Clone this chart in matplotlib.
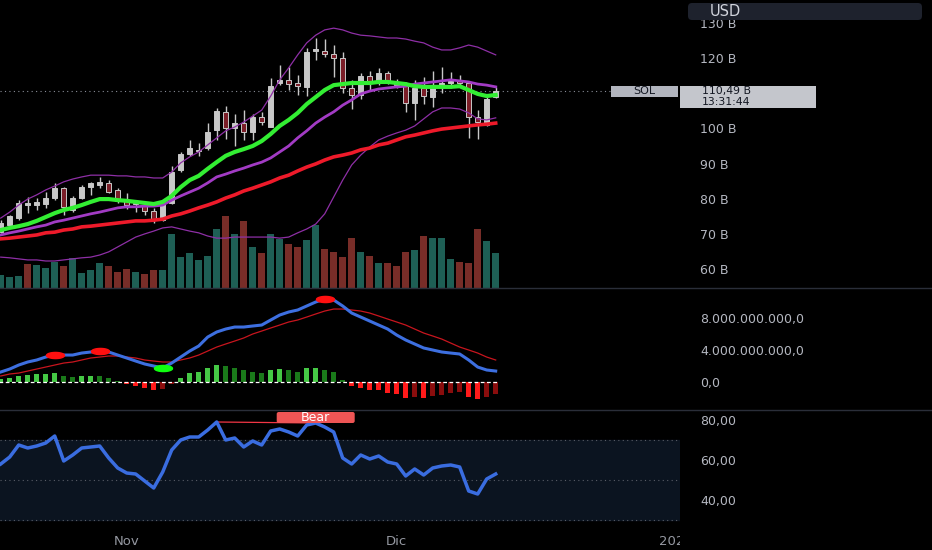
import datetime as dt
import numpy as np
import matplotlib.pyplot as plt
from matplotlib.lines import Line2D
from matplotlib.patches import Rectangle, FancyBboxPatch
from matplotlib.path import Path
from matplotlib.transforms import IdentityTransform, Bbox, TransformedBbox

plt.rcParams['font.family'] = ['DejaVu Sans']

# velas diárias (market cap em B), de 18/out até 12/dez
inicio = dt.date(2024, 10, 18)

abertura = [70.5, 72.5, 74.5, 78.2, 78.2, 78.5, 80.2, 83.0, 76.8, 80.2,
            83.3, 83.9, 84.5, 82.5, 79.6, 78.8, 78.2, 76.5, 73.9, 78.8,
            88.2, 92.7, 93.6, 94.4, 99.5, 104.7, 100.1, 101.5, 99.0, 103.2,
            100.4, 112.9, 113.8, 112.9, 111.8, 122.0, 122.0, 121.1, 120.0, 111.5,
            109.5, 114.9, 112.9, 115.7, 112.9, 112.6, 107.2, 111.5, 108.9, 112.3,
            112.9, 113.5, 112.9, 103.2, 101.0, 108.9]
maxima = [74.0, 75.4, 79.6, 80.5, 80.2, 81.9, 84.5, 83.3, 80.8, 83.9,
          84.8, 86.2, 85.3, 83.0, 81.6, 79.1, 78.8, 77.4, 79.6, 89.3,
          93.3, 96.7, 95.8, 101.5, 105.8, 106.4, 104.1, 105.2, 104.1, 104.7,
          114.3, 118.0, 117.5, 115.2, 122.9, 125.7, 125.4, 123.7, 121.7, 113.8,
          115.7, 116.3, 117.2, 116.3, 114.0, 113.2, 113.8, 114.6, 116.3, 117.5,
          116.0, 115.2, 113.2, 105.2, 109.5, 111.8]
minima = [70.2, 71.7, 73.9, 75.9, 76.8, 77.4, 79.6, 75.4, 76.2, 79.9,
          81.1, 83.0, 81.6, 78.8, 77.1, 76.2, 75.4, 73.1, 73.7, 78.5,
          87.6, 92.2, 92.2, 93.9, 96.7, 97.0, 95.0, 96.7, 96.7, 101.0,
          100.4, 112.3, 110.9, 109.5, 109.2, 119.4, 120.3, 114.6, 110.1, 105.5,
          108.4, 110.9, 112.3, 112.6, 111.5, 104.7, 102.4, 106.9, 106.1, 110.1,
          111.5, 111.8, 97.3, 97.0, 100.7, 108.6]
fechamento = [73.1, 75.1, 78.8, 78.8, 79.1, 80.2, 83.0, 77.7, 80.2, 83.3,
              84.5, 84.8, 81.9, 79.4, 78.2, 78.5, 76.5, 73.9, 78.8, 87.6,
              92.7, 94.4, 93.9, 99.0, 104.9, 100.1, 101.5, 99.0, 103.2, 101.8,
              112.0, 113.8, 112.6, 112.0, 121.7, 122.6, 121.1, 120.0, 111.5, 109.5,
              114.9, 112.9, 115.7, 112.9, 112.3, 107.2, 111.5, 109.2, 112.3, 112.9,
              113.5, 112.9, 103.2, 101.8, 108.4, 110.49]
hora_vela = '13:31:44'

# médias e bandas
ema_curta = [71.1, 71.7, 72.2, 72.8, 73.7, 74.8, 75.9, 76.8, 77.4, 78.2,
             79.1, 79.9, 79.9, 79.6, 79.4, 79.1, 78.8, 78.5, 79.1, 80.8,
             83.3, 85.3, 86.5, 88.5, 90.4, 92.2, 93.3, 94.1, 95.0, 96.4,
             98.4, 100.7, 102.4, 104.4, 106.9, 108.9, 110.9, 112.3, 112.6, 112.9,
             112.9, 112.9, 113.2, 113.2, 112.9, 112.6, 112.0, 111.8, 111.8, 111.8,
             111.8, 112.0, 110.9, 109.8, 109.2, 109.5]
banda_meio = [69.7, 70.3, 70.8, 71.4, 72.0, 72.5, 73.4, 73.9, 74.5, 75.1,
              75.7, 76.2, 76.8, 77.4, 77.7, 77.7, 77.9, 77.9, 78.2, 79.6,
              80.8, 81.9, 83.0, 84.5, 86.2, 87.0, 87.9, 88.7, 89.6, 90.4,
              91.6, 93.3, 95.0, 97.3, 99.3, 101.5, 103.2, 104.7, 106.6, 108.1,
              109.8, 110.6, 111.2, 111.5, 111.8, 112.0, 112.6, 112.9, 113.2, 113.5,
              113.8, 113.5, 113.2, 112.6, 112.3, 111.8]
ema_longa = [68.6, 68.8, 69.1, 69.4, 69.7, 70.3, 70.5, 71.1, 71.4, 72.0,
             72.2, 72.5, 72.8, 73.1, 73.4, 73.7, 73.7, 73.9, 74.2, 75.1,
             75.7, 76.5, 77.4, 78.2, 79.1, 80.2, 81.1, 82.2, 83.0, 83.9,
             84.8, 85.9, 86.7, 87.9, 89.0, 89.9, 91.0, 91.9, 92.4, 93.0,
             93.9, 94.4, 95.3, 95.8, 96.7, 97.6, 98.1, 98.7, 99.3, 99.8,
             100.1, 100.4, 100.7, 101.0, 101.2, 101.5]
banda_sup = [74.5, 76.2, 78.2, 79.9, 81.1, 82.5, 83.6, 84.8, 85.6, 86.2,
             86.7, 86.7, 86.7, 86.5, 86.5, 86.2, 86.2, 85.9, 85.9, 87.6,
             90.2, 91.9, 93.3, 95.3, 97.3, 99.3, 100.4, 101.8, 103.5, 105.2,
             109.2, 113.8, 117.2, 120.9, 124.3, 126.5, 128.0, 128.5, 128.0, 127.1,
             126.5, 126.3, 126.0, 125.7, 125.7, 125.4, 124.8, 124.3, 123.1, 122.3,
             122.3, 122.9, 123.7, 123.1, 122.0, 120.9]
banda_inf = [63.4, 63.2, 62.9, 62.6, 62.6, 62.3, 62.3, 62.6, 62.9, 63.2,
             63.4, 64.0, 64.9, 66.3, 67.7, 69.1, 70.0, 70.8, 71.7, 72.0,
             71.4, 70.8, 70.3, 69.4, 68.8, 68.8, 69.1, 69.1, 69.1, 69.1,
             69.1, 68.8, 69.1, 70.3, 71.4, 72.8, 75.7, 80.5, 85.3, 89.6,
             92.4, 94.7, 96.7, 97.8, 98.7, 99.5, 100.7, 102.7, 104.7, 105.8,
             105.8, 105.5, 104.4, 102.7, 102.4, 103.0]

volume = [1.3, 1.1, 1.2, 2.4, 2.3, 2.0, 2.6, 2.2, 3.0, 1.5,
          1.8, 2.5, 2.2, 1.6, 1.9, 1.6, 1.4, 1.8, 1.8, 5.4,
          3.1, 3.5, 2.8, 3.2, 5.9, 7.2, 5.4, 6.7, 4.1, 3.5,
          5.4, 4.9, 4.4, 4.1, 4.8, 6.3, 3.9, 3.6, 3.1, 5.0,
          3.6, 3.2, 2.5, 2.5, 2.2, 3.6, 3.8, 5.2, 5.0, 5.0,
          2.9, 2.6, 2.5, 5.9, 4.7, 3.5]
volume_alta = [1, 1, 1, 0, 1, 1, 1, 0, 1, 1,
               1, 1, 0, 0, 0, 1, 0, 0, 1, 1,
               1, 1, 1, 1, 1, 0, 1, 0, 1, 0,
               1, 1, 0, 0, 1, 1, 0, 0, 0, 0,
               1, 0, 1, 0, 0, 0, 1, 0, 1, 1,
               1, 0, 0, 0, 1, 1]

# MACD em bilhões
macd = [1.19, 1.56, 2.06, 2.44, 2.69, 3.06, 3.31, 3.31, 3.31, 3.56,
        3.69, 3.81, 3.69, 3.31, 2.94, 2.56, 2.19, 1.94, 1.69, 2.31,
        3.06, 3.81, 4.44, 5.56, 6.19, 6.56, 6.81, 6.81, 6.94, 7.06,
        7.69, 8.31, 8.69, 8.94, 9.44, 9.94, 10.31, 10.19, 9.44, 8.56,
        8.06, 7.56, 7.06, 6.56, 5.81, 5.19, 4.69, 4.19, 3.94, 3.69,
        3.56, 3.44, 2.69, 1.81, 1.44, 1.31]
sinal = [0.69, 0.94, 1.06, 1.31, 1.56, 1.81, 2.06, 2.31, 2.44, 2.69,
         2.94, 3.06, 3.19, 3.19, 3.06, 2.94, 2.69, 2.56, 2.44, 2.44,
         2.69, 2.94, 3.31, 3.81, 4.31, 4.69, 5.06, 5.44, 5.94, 6.31,
         6.69, 7.06, 7.44, 7.69, 8.06, 8.44, 8.81, 9.06, 9.06, 8.94,
         8.81, 8.56, 8.19, 7.81, 7.44, 7.06, 6.56, 6.06, 5.69, 5.31,
         4.81, 4.31, 3.94, 3.56, 3.06, 2.69]
histograma = [0.29, 0.5, 0.75, 0.83, 0.92, 0.96, 1.08, 0.71, 0.58, 0.71,
              0.71, 0.71, 0.46, 0.08, -0.29, -0.5, -0.75, -1.04, -0.92, -0.25,
              0.5, 1.04, 1.25, 1.67, 2.08, 1.96, 1.75, 1.38, 1.25, 1.04,
              1.38, 1.58, 1.46, 1.25, 1.67, 1.67, 1.46, 1.17, 0.21, -0.54,
              -0.75, -1.08, -1.08, -1.38, -1.54, -2.0, -1.88, -2.0, -1.75, -1.67,
              -1.46, -1.33, -1.88, -2.21, -1.96, -1.58]
# c = tom claro, e = tom escuro
tom_hist = list("ccccccceec" "ceeeccccee" "ccccceeeee" "cceecceeec"
                "ccccccecee" "eeccee")
pontos_topo = [6, 11, 36]
pontos_fundo = [18]

rsi = [58, 61.5, 67.5, 66, 67, 68.5, 72, 59.5, 62.5, 66,
       66.5, 67, 61, 56, 53.5, 53, 49.5, 46, 54, 65,
       70, 71.5, 71.5, 75, 79, 70, 71, 66.5, 69.5, 67.5,
       74.5, 75.5, 74, 72, 77.5, 78.5, 76.5, 74, 61, 58,
       62.5, 60.5, 62, 59, 58, 52, 55.5, 52.5, 56, 57,
       57.5, 56.5, 44.5, 43, 50.5, 53]
divergencia = (24, 35)

n = len(fechamento)
x = np.arange(n)
marcas_x = [(dt.date(2024, 11, 1) - inicio).days,
            (dt.date(2024, 12, 1) - inicio).days,
            (dt.date(2025, 1, 1) - inicio).days]
nomes_x = ['Nov', 'Dic', '2025']

W, H = 932, 550
fig = plt.figure(figsize=(W / 100, H / 100), dpi=100, facecolor='black')
larg = 680 / W
ax_p = fig.add_axes([0, 262 / H, larg, 288 / H])
ax_v = ax_p.twinx()
ax_m = fig.add_axes([0, 140 / H, larg, 122 / H])
ax_r = fig.add_axes([0, 22 / H, larg, 118 / H])

cor_txt = '#b4b7c0'
for ax in (ax_p, ax_v, ax_m, ax_r):
    for s in ax.spines.values():
        s.set_visible(False)
    ax.set_xlim(-0.08, 75.48)
    ax.tick_params(axis='x', bottom=False, labelbottom=False)
for ax in (ax_p, ax_m, ax_r):
    ax.yaxis.tick_right()
    ax.tick_params(axis='y', left=False, labelleft=False, right=False,
                   labelright=True, length=0, labelcolor=cor_txt,
                   labelsize=9, pad=14.4)
ax_p.set_zorder(2)
ax_v.set_zorder(1)
ax_p.patch.set_visible(False)
for ax in (ax_m, ax_r):
    ax.set_facecolor('black')

# --- painel de preço ---
ax_p.set_ylim(54.62, 136.5)
# a etiqueta do último preço esconde o nível mais próximo da escala
niveis = [v for v in range(60, 131, 10) if abs(v - fechamento[-1]) > 5]
ax_p.set_yticks(niveis)
ax_p.set_yticklabels([f'{v} B' for v in niveis])

ab = np.array(abertura)
fe = np.array(fechamento)
alta = fe >= ab
ax_p.vlines(x, minima, maxima, color='#c8c8c8', lw=1.0, zorder=3)
ax_p.bar(x, np.abs(fe - ab), bottom=np.minimum(ab, fe), width=0.55,
         color=np.where(alta, '#c8c8c8', '#7b1e28'), edgecolor='#c8c8c8',
         lw=0.7, zorder=4)

ax_p.plot(x, banda_sup, color='#8e2fa6', lw=0.9, zorder=5)
ax_p.plot(x, banda_inf, color='#8e2fa6', lw=0.9, zorder=5)
ax_p.plot(x, banda_meio, color='#a23bc4', lw=2.0, zorder=5)
ax_p.plot(x, ema_longa, color='#ee1a2a', lw=2.6, zorder=5)
ax_p.plot(x, ema_curta, color='#33ee33', lw=3.0, zorder=6)
ax_p.axhline(fechamento[-1], color='#8a8e98', lw=0.8, ls=(0, (1, 3)), zorder=2)

ax_v.set_ylim(0, 28.8)
ax_v.set_yticks([])
ax_v.bar(x, volume, width=0.78,
         color=['#1e5f55' if a else '#782d28' for a in volume_alta])

# --- MACD ---
ax_m.set_ylim(-3.56, 11.69)
ax_m.set_yticks([0, 4, 8])
ax_m.set_yticklabels([f'{v * 1e9:,.1f}'.replace(',', '#').replace('.', ',').replace('#', '.')
                      for v in [0, 4, 8]])
cores_hist = []
for h, t in zip(histograma, tom_hist):
    if h >= 0:
        cores_hist.append('#45c845' if t == 'c' else '#1a7a1a')
    else:
        cores_hist.append('#ff1a1a' if t == 'c' else '#8a0d0d')
ax_m.bar(x, histograma, width=0.5, color=cores_hist, zorder=2)
ax_m.hlines(0, x[0] - 0.3, x[-1] + 0.2, color='white', lw=0.9, ls=(0, (3, 2)), zorder=3)
ax_m.plot(x, sinal, color='#c8151e', lw=0.9, zorder=4)
ax_m.plot(x, macd, color='#3d6fe0', lw=2.2, zorder=5)

t = np.linspace(0, 2 * np.pi, 41)
elipse = Path(np.column_stack([np.cos(t), 0.34 * np.sin(t)]))
mc = np.array(macd)
ax_m.plot(pontos_topo, mc[pontos_topo], ls='none', marker=elipse, ms=13,
          color='#ff1010', zorder=6)
ax_m.plot(pontos_fundo, mc[pontos_fundo], ls='none', marker=elipse, ms=13,
          color='#10ff10', zorder=6)

# --- RSI ---
ax_r.set_ylim(26, 85)
ax_r.set_yticks([40, 60, 80])
ax_r.set_yticklabels([f'{v:.2f}'.replace('.', ',') for v in [40, 60, 80]])
ax_r.axhspan(30, 70, color='#0b1420', zorder=0)
for nivel in (30, 50, 70):
    ax_r.axhline(nivel, color='#5a5e68', lw=0.8, ls=(0, (1, 3)), zorder=1)
ax_r.plot(x, rsi, color='#3a6de0', lw=2.5, zorder=4)
i0, i1 = divergencia
ax_r.plot([i0, i1], [rsi[i0], rsi[i1]], color='#f23645', lw=0.9, zorder=3)

ax_r.set_xticks(marcas_x)
ax_r.set_xticklabels(nomes_x)
ax_r.tick_params(axis='x', labelbottom=True, length=0, labelcolor='#9598a1',
                 labelsize=9.5, pad=5)
for lab in ax_r.get_xticklabels():
    lab.set_clip_on(True)
    lab.set_clip_box(TransformedBbox(Bbox([[0, -1], [1, 2]]), ax_r.transAxes))

# --- rótulos sobrepostos (coordenadas em pixels) ---
pix = IdentityTransform()
bx, by = ax_r.transData.transform((i1, rsi[i1]))
fig.patches.append(FancyBboxPatch((bx - 39, by), 78, 11, boxstyle='round,pad=0,rounding_size=2',
                                  fc='#ee5555', ec='none', transform=pix, zorder=5))
fig.text(bx, by + 5.5, 'Bear', transform=pix, ha='center', va='center',
         color='white', fontsize=9, zorder=6)

py = ax_p.transData.transform((0, fechamento[-1]))[1]
fig.patches.append(Rectangle((611, py - 5.6), 67, 11, fc='#b2b5be', ec='none',
                             transform=pix, zorder=5))
fig.text(644.5, py, 'SOL', transform=pix, ha='center', va='center',
         color='#131722', fontsize=8, zorder=6)
fig.patches.append(Rectangle((680, py - 16.5), 136, 22, fc='#c4c6cc', ec='none',
                             transform=pix, zorder=5))
preco_txt = f'{fechamento[-1]:.2f}'.replace('.', ',') + ' B'
fig.text(702, py, preco_txt, transform=pix, ha='left', va='center',
         color='#131722', fontsize=7.8, zorder=6)
fig.text(702, py - 11, hora_vela, transform=pix, ha='left', va='center',
         color='#131722', fontsize=7.8, zorder=6)

fig.patches.append(FancyBboxPatch((688, H - 20), 234, 17, boxstyle='round,pad=0,rounding_size=4',
                                  fc='#1e222d', ec='none', transform=pix, zorder=5))
fig.text(710, H - 11.5, 'USD', transform=pix, ha='left', va='center',
         color='#d1d4dc', fontsize=10.5, zorder=6)

for yy in (288, 410):
    fig.add_artist(Line2D([0, W], [H - yy, H - yy], transform=pix,
                          color='#2a2e39', lw=1.0))

fig.savefig('out.png', dpi=100, facecolor='black')
